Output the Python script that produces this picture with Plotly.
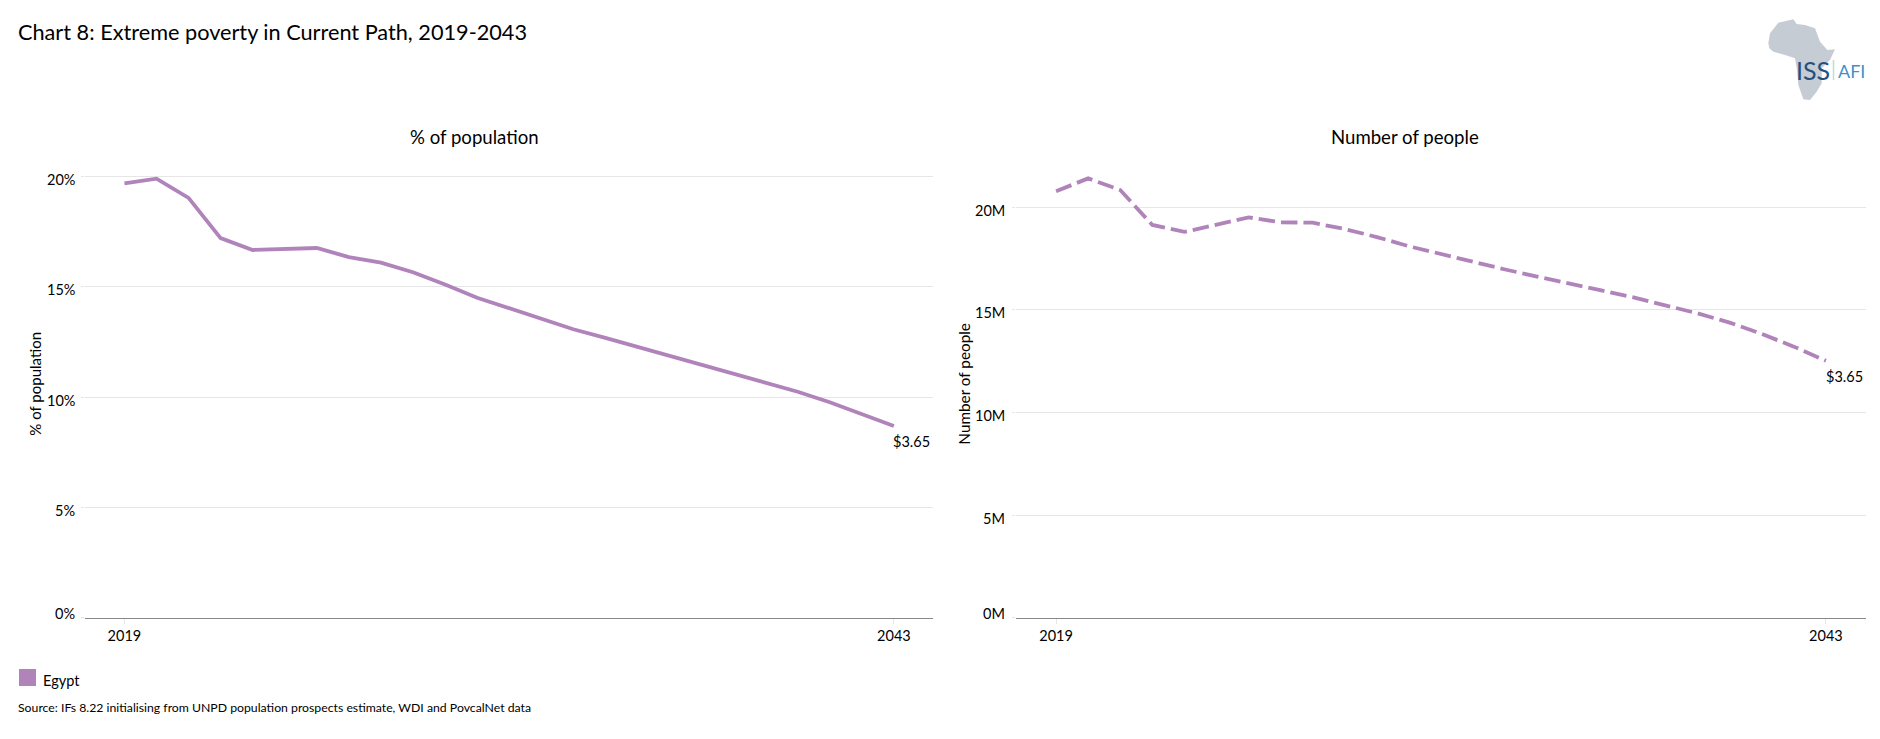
import plotly.graph_objects as go

years = list(range(2019, 2044))
pct_population = [19.68, 19.89, 19.02, 17.20, 16.66, 16.72, 16.75, 16.34, 16.09, 15.65, 15.10, 14.50, 14.02,
                  13.52, 13.07, 12.68, 12.28, 11.87, 11.47, 11.07, 10.66, 10.24, 9.76, 9.22, 8.69]
people_millions = [20.78, 21.41, 20.84, 19.14, 18.80, 19.17, 19.51, 19.27, 19.25, 18.94, 18.55, 18.10, 17.72,
                   17.33, 16.97, 16.62, 16.30, 15.95, 15.61, 15.24, 14.83, 14.38, 13.83, 13.21, 12.52]
pct_ticks = [0, 5, 10, 15, 20]
pct_labels = ["0%", "5%", "10%", "15%", "20%"]
people_ticks = [0, 5, 10, 15, 20]
people_labels = ["0M", "5M", "10M", "15M", "20M"]
year_ticks = [2019, 2043]
year_labels = ["2019", "2043"]
series_name = "Egypt"
end_label = "$3.65"

W, H = 1880, 739
FONT = "Lato"
PURPLE = "#B084BA"
GRID = "#E6E6E6"
TXT = "#000000"


def X(p):
    return p / W


def Y(p):
    return 1 - p / H


fig = go.Figure()
fig.add_trace(go.Scatter(x=years, y=pct_population, mode="lines", name=series_name, showlegend=False,
                         line=dict(color=PURPLE, width=3.8), xaxis="x", yaxis="y"))
fig.add_trace(go.Scatter(x=years, y=people_millions, mode="lines", name=series_name, showlegend=False,
                         line=dict(color=PURPLE, width=3.8, dash="16.5px,6px"), xaxis="x2", yaxis="y2"))

ann = []


def text(x, y, s, size, anchor="left", color=TXT, **kw):
    ann.append(dict(x=X(x), y=Y(y), xref="paper", yref="paper", text=s, showarrow=False, xanchor=anchor,
                    yanchor="middle", font=dict(family=FONT, size=size, color=color), **kw))


text(15.5, 32, "Chart 8: Extreme poverty in Current Path, 2019-2043", 21.7)
text(474, 137, "% of population", 18.6, "center")
text(1405, 137, "Number of people", 18.6, "center")
text(41, 680.5, series_name, 14.5)
text(16, 707, "Source: IFs 8.22 initialising from UNPD population prospects estimate, WDI and PovcalNet data", 12.25)

# tick labels sit slightly off their gridlines in the reference
for v, s in zip(pct_ticks, pct_labels):
    ann.append(dict(x=X(77), xref="paper", y=v, yref="y", text=s, showarrow=False, xanchor="right", yanchor="middle",
                    yshift=4.7 if v == 0 else -3, font=dict(family=FONT, size=14.5, color=TXT)))
for v, s in zip(people_ticks, people_labels):
    ann.append(dict(x=X(1007), xref="paper", y=v, yref="y2", text=s, showarrow=False, xanchor="right", yanchor="middle",
                    yshift=4.7 if v == 0 else -3, font=dict(family=FONT, size=14.5, color=TXT)))

# end labels
ann.append(dict(x=years[-1], y=pct_population[-1], xref="x", yref="y", text=end_label, showarrow=False, xshift=18,
                yshift=-16, font=dict(family=FONT, size=14.5, color=TXT)))
ann.append(dict(x=years[-1], y=people_millions[-1], xref="x2", yref="y2", text=end_label, showarrow=False, xshift=19,
                yshift=-16, font=dict(family=FONT, size=14.5, color=TXT)))

# logo text
text(1813, 70.5, "ISS", 25, "center", "#23507F")
text(1851, 71, "AFI", 18, "center", "#3F92C9")

# logo outline (zoomed-crop coordinates)
africa = [(85, 130), (90, 100), (115, 68), (160, 58), (170, 72), (195, 75), (225, 85), (240, 125), (262, 150),
          (285, 148), (270, 180), (245, 205), (245, 250), (230, 275), (210, 300), (190, 298), (175, 255),
          (172, 215), (165, 175), (135, 165), (100, 155), (88, 145)]
path = "M " + " L ".join(f"{X(1740 + a / 3):.5f},{Y(b / 3):.5f}" for a, b in africa) + " Z"
shapes = [
    dict(type="path", path=path, xref="paper", yref="paper", fillcolor="#C5CCD4", line=dict(width=0), layer="below"),
    dict(type="line", xref="paper", yref="paper", x0=X(1833.5), x1=X(1833.5), y0=Y(60), y1=Y(80),
         line=dict(color="#BFDCD2", width=1.5)),
    dict(type="rect", xref="paper", yref="paper", x0=X(19), x1=X(36), y0=Y(669), y1=Y(686),
         fillcolor=PURPLE, line=dict(width=0)),
]


def yaxis(top, vals, anchor, title, standoff, size, domain):
    return dict(domain=domain, range=[0, top], tickvals=vals, showticklabels=False, ticks="outside", ticklen=3,
                tickcolor=GRID, gridcolor=GRID, gridwidth=1, showline=False, zeroline=False, anchor=anchor,
                title=dict(text=title, standoff=standoff, font=dict(family=FONT, size=size, color=TXT)))


def xaxis(rng, anchor, domain):
    return dict(domain=domain, range=rng, tickvals=year_ticks, ticktext=year_labels, showgrid=False, zeroline=False,
                showline=True, linecolor="#888888", linewidth=1.2, ticks="outside", ticklen=5, tickcolor=GRID,
                tickfont=dict(family=FONT, size=14.5, color=TXT), anchor=anchor)


ydom = [Y(617.7), Y(150)]
fig.update_layout(
    width=W, height=H, margin=dict(l=0, r=0, t=0, b=0), plot_bgcolor="white", paper_bgcolor="white",
    showlegend=False, font=dict(family=FONT, color=TXT),
    xaxis=xaxis([2017.77, 2044.22], "y", [X(85), X(933)]),
    xaxis2=xaxis([2017.75, 2044.25], "y2", [X(1016), X(1866)]),
    yaxis=yaxis((617.7 - 150) / 22.07, pct_ticks, "x", "% of population", 35, 15, ydom),
    yaxis2=yaxis((617.7 - 150) / 20.52, people_ticks, "x2", "Number of people", 37, 15.3, ydom),
    annotations=ann, shapes=shapes,
)

fig.write_html("out.html", config=dict(displayModeBar=False),
               post_script="document.body.style.margin='0';document.body.style.overflow='hidden';")
